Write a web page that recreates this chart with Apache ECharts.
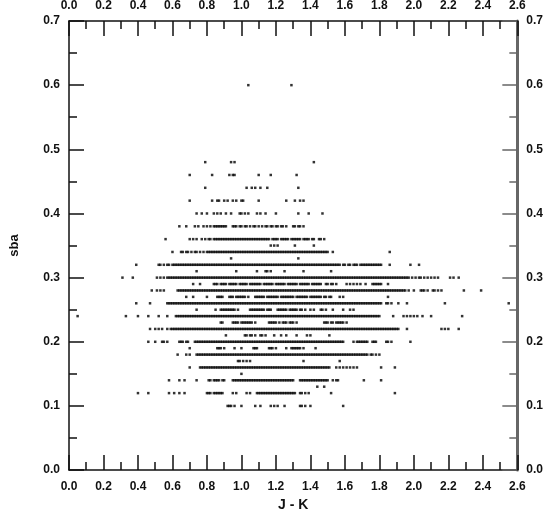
<!DOCTYPE html>
<html>
<head>
<meta charset="utf-8">
<script src="https://cdn.jsdelivr.net/npm/echarts@6/dist/echarts.min.js"></script>
<style>html,body{margin:0;padding:0;background:#fff}#c{width:546px;height:517px}</style>
</head>
<body>
<div id="c"></div>
<script>
// J-K values (in hundredths) for each sba row
const sbaLevels = [0.60, 0.48, 0.46, 0.44, 0.42, 0.40, 0.38, 0.36, 0.35, 0.34, 0.33, 0.32, 0.31, 0.30, 0.29, 0.28, 0.27, 0.26, 0.25, 0.24, 0.23, 0.22, 0.21, 0.20, 0.19, 0.18, 0.17, 0.16, 0.15, 0.14, 0.13, 0.12, 0.10];
const jk060 = [104,129];
const jk048 = [79,94,96,142];
const jk046 = [70,83,93,95,96,110,117,132];
const jk044 = [79,103,106,108,111,115,133];
const jk042 = [70,83,86,87,90,92,95,97,100,101,110,126,131,134,136];
const jk040 = [74,77,80,84,86,88,91,94,99,100,102,104,109,111,114,120,133,139,147];
const jk038 = [64,68,73,75,78,80,82,84,85,86,87,88,89,90,91,95,96,97,99,100,102,103,105,107,108,110,112,114,115,117,118,120,121,123,124,126,130,131,133,134,136];
const jk036 = [56,70,72,74,77,79,81,82,84,85,86,87,88,89,90,91,92,93,94,95,96,97,98,99,100,101,102,103,104,105,106,107,108,109,110,111,112,113,114,115,116,118,119,120,121,123,124,125,126,127,129,130,131,132,133,134,136,137,138,139,141,142,145,146,148];
const jk035 = [117,119,121,131,142];
const jk034 = [60,65,66,68,69,71,73,74,76,78,80,81,82,83,84,85,86,87,88,89,90,91,92,93,94,95,96,97,98,99,100,101,102,103,104,105,106,107,108,109,110,111,112,113,114,115,116,117,118,119,120,121,122,123,124,125,126,127,128,129,130,131,132,133,134,135,136,137,138,139,140,141,142,143,144,145,146,147,148,149,150,153,186];
const jk033 = [94,133];
const jk032 = [39,52,53,55,57,58,60,61,62,63,64,65,66,67,68,69,70,71,72,73,74,75,76,77,78,79,80,81,82,83,84,85,86,87,88,89,90,91,92,93,94,95,96,97,98,99,100,101,102,103,104,105,106,107,108,109,110,111,112,113,114,115,116,117,118,119,120,121,122,123,124,125,126,127,128,129,130,131,132,133,134,135,136,137,138,139,140,141,142,143,144,145,146,147,148,149,150,151,152,153,154,155,156,157,159,160,162,163,165,166,167,169,170,171,172,173,174,175,176,177,178,179,180,181,186,198,203];
const jk031 = [74,97,109,114,115,117,125,136,152];
const jk030 = [31,37,51,53,55,57,58,59,60,61,62,63,64,65,66,67,68,69,70,71,72,73,74,75,76,77,78,79,80,81,82,83,84,85,86,87,88,89,90,91,92,93,94,95,96,97,98,99,100,101,102,103,104,105,106,107,108,109,110,111,112,113,114,115,116,117,118,119,120,121,122,123,124,125,126,127,128,129,130,131,132,133,134,135,136,137,138,139,140,141,142,143,144,145,146,147,148,149,150,151,152,153,154,155,156,157,158,159,160,161,162,163,164,165,166,167,168,169,170,171,172,173,174,175,176,177,178,179,180,181,182,183,184,185,186,187,188,189,190,191,192,193,194,195,196,197,199,201,203,204,206,208,210,212,214,221,223,226];
const jk029 = [72,76,84,85,86,88,89,90,91,93,94,95,96,97,99,100,101,102,103,105,106,107,108,109,110,111,113,114,115,116,117,118,120,121,122,123,124,125,127,128,129,130,131,132,134,135,136,137,138,139,141,142,143,144,145,146,149,150,152,153,155,161,163,165,167,169,172,176,177,178,179,180,181,185];
const jk028 = [48,51,53,55,63,64,65,66,67,68,69,70,71,72,73,74,75,76,77,78,79,80,81,82,83,84,85,86,87,88,89,90,91,92,93,94,95,96,97,98,99,100,101,102,103,104,105,106,107,108,109,110,111,112,113,114,115,116,117,118,119,120,121,122,123,124,125,126,127,128,129,130,131,132,133,134,135,136,137,138,139,140,141,142,143,144,145,146,147,148,149,150,151,152,153,154,155,156,157,158,159,160,161,162,163,164,165,166,167,168,169,170,171,172,173,174,175,176,177,178,179,180,181,182,183,184,185,186,187,188,189,190,191,192,193,194,195,197,200,204,205,206,208,211,212,214,216,229,239];
const jk027 = [68,72,80,86,87,88,89,93,94,95,97,98,99,100,101,102,104,108,109,110,111,112,113,115,116,117,118,119,120,121,123,124,125,126,127,128,129,130,132,133,134,135,136,137,138,140,141,142,143,144,145,146,148,149,151,152,157,159,185];
const jk026 = [39,47,57,58,59,60,61,62,63,64,65,66,67,68,69,70,71,72,73,74,75,76,77,78,79,80,81,82,83,84,85,86,87,88,89,90,91,92,93,94,95,96,97,98,99,100,101,102,103,104,105,106,107,108,109,110,111,112,113,114,115,116,117,118,119,120,121,122,123,124,125,126,127,128,129,130,131,132,133,134,135,136,137,138,139,140,141,142,143,144,145,146,147,148,149,150,151,152,153,154,155,156,157,158,159,160,161,162,163,164,165,166,167,168,169,170,171,172,173,174,175,176,177,178,179,180,181,184,185,187,191,196,218,255];
const jk025 = [74,85,88,89,90,91,92,93,94,95,96,98,105,106,107,108,109,110,111,112,113,115,116,117,121,122,123,124,125,126,128,129,130,131,132,134,135,137,140,142,146,147,149,153,159,163,165];
const jk024 = [5,33,40,46,52,57,62,63,64,65,66,67,68,69,70,71,72,73,74,75,76,77,78,79,80,81,82,83,84,85,86,87,88,89,90,91,92,93,94,95,96,97,98,99,100,101,102,103,104,105,106,107,108,109,110,111,112,113,114,115,116,117,118,119,120,121,122,123,124,125,126,127,128,129,130,131,132,133,134,135,136,137,138,139,140,141,142,143,144,145,146,147,148,149,150,151,152,153,154,155,156,157,158,159,160,161,162,163,164,165,166,167,168,169,170,171,172,173,174,175,176,177,178,179,180,188,194,196,198,200,202,205,210,228];
const jk023 = [88,89,95,96,97,98,100,101,102,103,104,105,106,108,116,117,118,119,120,122,124,125,126,128,129,130,132,148,149,150,152,153,155,156,157,158,159,161];
const jk022 = [47,50,52,54,57,59,60,61,62,63,64,65,66,67,68,69,70,71,72,73,74,75,76,77,78,79,80,81,82,83,84,85,86,87,88,89,90,91,92,93,94,95,96,97,98,99,100,101,102,103,104,105,106,107,108,109,110,111,112,113,114,115,116,117,118,119,120,121,122,123,124,125,126,127,128,129,130,131,132,133,134,135,136,137,138,139,140,141,142,143,144,145,146,147,148,149,150,151,152,153,154,155,156,157,158,159,160,161,162,163,164,165,166,167,168,169,170,171,172,173,174,175,176,177,178,179,180,181,182,183,184,185,186,187,188,189,190,191,196,216,218,220,226];
const jk021 = [91,102,103,105,106,108,111,112,114,119,123,126,132,138,140,151];
const jk020 = [46,50,54,55,57,64,65,66,68,69,73,74,75,76,77,78,79,80,81,82,83,84,85,86,87,88,89,90,91,92,93,94,95,96,97,98,99,100,101,102,103,104,105,106,107,108,109,110,111,112,113,114,115,116,117,118,119,120,121,122,123,124,125,126,127,128,129,130,131,132,133,134,135,136,137,138,139,140,141,142,143,144,145,146,147,148,149,150,151,152,153,154,155,156,157,158,159,165,167,168,169,170,171,172,173,176,177,178,184,185,187,198];
const jk019 = [70,86,87,88,90,96,100,107,108,109,116,117,118,120,126,129,130,131,132,133,134,136,143];
const jk018 = [63,68,70,74,75,76,77,78,79,80,81,82,83,84,85,86,87,88,89,90,91,92,93,94,95,96,97,98,99,100,101,102,103,104,105,106,107,108,109,110,111,112,113,114,115,116,117,118,119,120,121,122,123,124,125,126,127,128,129,130,131,132,133,134,135,136,137,138,139,140,141,142,143,144,145,146,147,148,149,150,151,152,153,154,155,156,157,158,159,160,161,162,163,164,165,166,167,168,169,170,171,172,173,175,176,178,180];
const jk017 = [98,99,101,103,105,136,157];
const jk016 = [70,76,77,78,79,80,81,82,83,84,85,86,87,88,89,90,91,92,93,94,95,96,97,98,99,100,101,102,103,104,105,106,107,108,109,110,111,112,113,114,115,116,117,118,119,120,121,122,123,124,125,126,127,128,129,130,131,132,133,134,135,136,137,138,139,140,141,142,143,144,145,146,147,148,149,150,151,155,157,159,161,163,165,167,181,189];
const jk015 = [100];
const jk014 = [58,64,67,74,81,82,84,85,86,87,89,90,95,96,97,98,99,100,101,102,103,104,105,106,107,108,109,110,111,112,113,114,115,116,117,118,119,120,121,122,123,124,125,126,127,128,129,130,134,135,136,137,138,139,140,141,142,143,144,145,146,147,148,149,150,153,155,156,171,181];
const jk013 = [144,148];
const jk012 = [40,46,58,61,64,67,80,81,82,84,85,86,87,88,89,95,97,103,105,109,110,111,112,113,114,115,116,117,118,119,120,121,122,123,124,125,126,127,128,129,130,131,134,135,137,139,152,189];
const jk010 = [92,93,94,96,100,108,111,117,119,121,125,134,135,137,140,159];

const jkRows = [jk060, jk048, jk046, jk044, jk042, jk040, jk038, jk036, jk035, jk034, jk033, jk032, jk031, jk030, jk029, jk028, jk027, jk026, jk025, jk024, jk023, jk022, jk021, jk020, jk019, jk018, jk017, jk016, jk015, jk014, jk013, jk012, jk010];

const xTicks = ['0.0','0.2','0.4','0.6','0.8','1.0','1.2','1.4','1.6','1.8','2.0','2.2','2.4','2.6'];
const yTicks = ['0.0','0.1','0.2','0.3','0.4','0.5','0.6','0.7'];

const points = [];
jkRows.forEach((row, i) => {
  row.forEach(v => points.push([v / 100, sbaLevels[i]]));
});

const FONT = "'Liberation Sans', Arial, sans-serif";
const lbl = {fontFamily: FONT, fontSize: 12, fontWeight: 'bold', color: '#111'};

function xAxisDef(pos, margin) {
  return {
    type: 'value', position: pos, min: 0, max: 2.6, interval: 0.2,
    axisLine: {show: true, onZero: false, lineStyle: {color: '#111', width: 1.5}},
    axisTick: {show: true, inside: true, length: 15, lineStyle: {color: '#111', width: 1.5}},
    minorTick: {show: true, splitNumber: 2, length: 8, lineStyle: {color: '#111', width: 1.5}},
    splitLine: {show: false},
    axisLabel: Object.assign({margin: margin, formatter: v => xTicks[Math.round(v / 0.2)]}, lbl)
  };
}
function yAxisDef(pos, color, width) {
  return {
    type: 'value', position: pos, min: 0, max: 0.7, interval: 0.1,
    axisLine: {show: true, onZero: false, lineStyle: {color: color, width: width}},
    axisTick: {show: true, inside: true, length: 15, lineStyle: {color: color, width: 1.5}},
    minorTick: {show: true, splitNumber: 2, length: 8, lineStyle: {color: color, width: 1.5}},
    splitLine: {show: false},
    axisLabel: Object.assign({margin: 9, formatter: v => yTicks[Math.round(v / 0.1)]}, lbl)
  };
}

const chart = echarts.init(document.getElementById('c'), null, {renderer: 'canvas'});
const xb = xAxisDef('bottom', 11);
xb.name = 'J - K';
xb.nameLocation = 'middle';
xb.nameGap = 26;
xb.nameTextStyle = {fontFamily: FONT, fontSize: 14, fontWeight: 'bold', color: '#111'};
const yl = yAxisDef('left', '#111', 1.5);
yl.name = 'sba';
yl.nameLocation = 'middle';
yl.nameGap = 48;
yl.nameTextStyle = {fontFamily: FONT, fontSize: 13, fontWeight: 'bold', color: '#111'};

chart.setOption({
  animation: false,
  backgroundColor: '#fff',
  grid: {left: 62, right: 25, top: 19, bottom: 39, containLabel: false},
  xAxis: [xb, xAxisDef('top', 9)],
  yAxis: [yl, yAxisDef('right', '#666', 3)],
  series: [{
    type: 'scatter',
    xAxisIndex: 0, yAxisIndex: 0,
    symbol: 'rect', symbolSize: 2.5,
    itemStyle: {color: '#000'},
    data: points
  }]
});
</script>
</body>
</html>
